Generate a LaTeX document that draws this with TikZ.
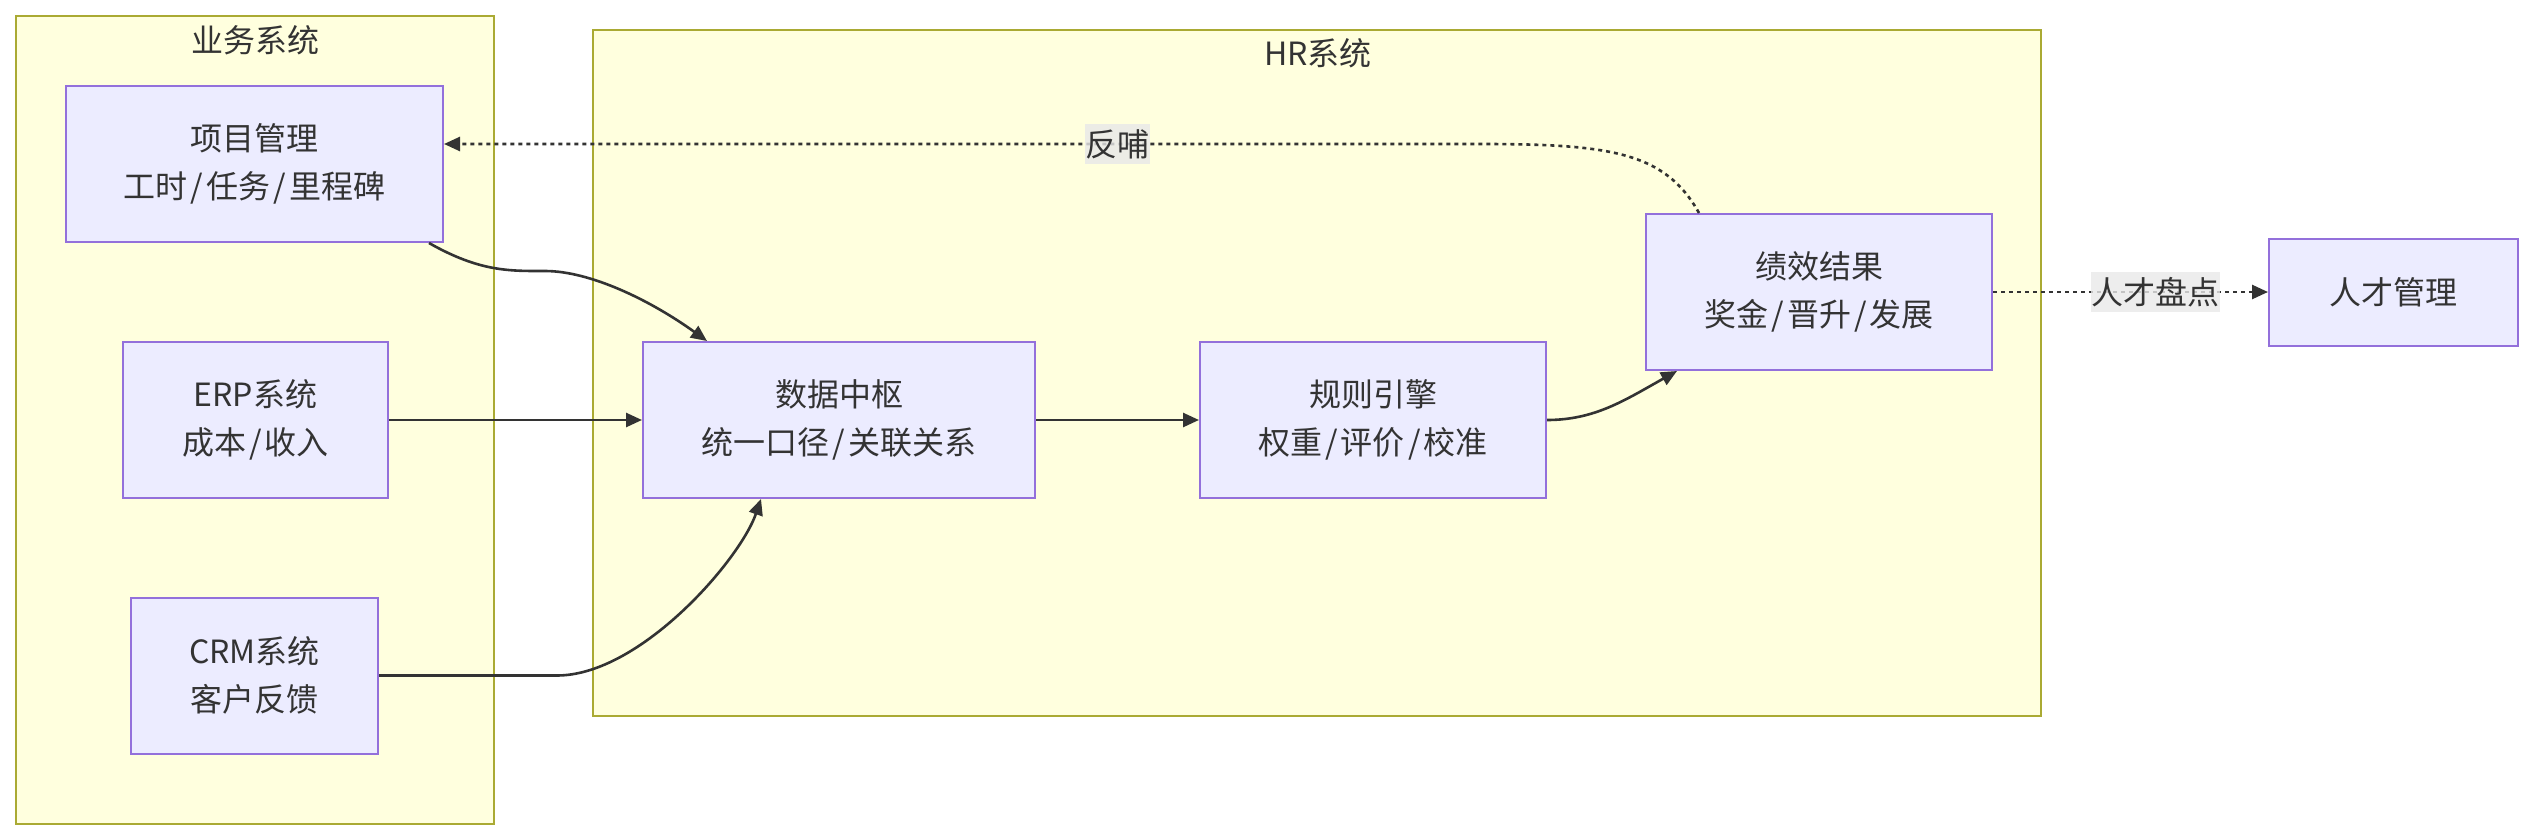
\documentclass[tikz,border=0pt]{standalone}
\usepackage{fontspec}
\setmainfont{Noto Sans CJK SC}
\usetikzlibrary{arrows.meta,calc}
\definecolor{clfill}{HTML}{FFFFDE}
\definecolor{clline}{HTML}{AAAA33}
\definecolor{ndfill}{HTML}{ECECFF}
\definecolor{ndline}{HTML}{9370DB}
\definecolor{txt}{HTML}{333333}
\definecolor{lblbg}{HTML}{E8E8E8}
\newcommand\slsh{\kern1.5pt/\kern1.5pt}
\begin{document}
\begin{tikzpicture}[x=0.5pt,y=-0.5pt,
	box/.style={draw=ndline,fill=ndfill,line width=1pt,text=txt,align=center,inner sep=0pt,
		font=\fontsize{16}{24}\selectfont,minimum height=78pt},
	ttl/.style={text=txt,font=\fontsize{16}{19}\selectfont},
	flow/.style={draw=txt,line width=1.3pt,-{Triangle[length=8pt,width=7pt]}},
	feed/.style={flow,dash pattern=on 2pt off 2pt},
	lbl/.style={fill=lblbg,fill opacity=0.8,text opacity=1,text=txt,inner xsep=0.3pt,inner ysep=0pt,
		minimum height=20pt,font=\fontsize{16}{19}\selectfont}]
	\useasboundingbox (0,0) rectangle (2533,840);
	% groups
	\draw[draw=clline,fill=clfill,line width=1pt] (16,16) rectangle (494,824);
	\draw[draw=clline,fill=clfill,line width=1pt] (593,30) rectangle (2041,716);
	\node[ttl] (bizttl) at (255,40) {业务系统};
	\node[ttl] (hrttl) at (1318,53) {HR系统};
	% nodes
	\node[box,minimum width=188.5pt] (pm) at (254.5,164) {项目管理\\工时\slsh 任务\slsh 里程碑};
	\node[box,minimum width=132.5pt] (erp) at (255.5,420) {ERP系统\\成本\slsh 收入};
	\node[box,minimum width=123.5pt] (crm) at (254.5,675.5) {CRM系统\\客户反馈};
	\node[box,minimum width=196pt] (hub) at (839,420) {数据中枢\\统一口径\slsh 关联关系};
	\node[box,minimum width=173pt] (rule) at (1373,420) {规则引擎\\权重\slsh 评价\slsh 校准};
	\node[box,minimum width=173pt] (res) at (1819,292) {绩效结果\\奖金\slsh 晋升\slsh 发展};
	\node[box,minimum width=124.5pt,minimum height=53.5pt] (tm) at (2393.5,292) {人才管理};
	\coordinate (fb) at (1480,144);
	% edges
	\draw[flow] ($(pm.south east)+(-15,0)$) .. controls (480,272) and (510,271) .. (545,271)
		.. controls (590,271) and (650,300) .. ($(hub.north west)+(65,0)$);
	\draw[flow] (erp) -- (hub);
	\draw[flow] (crm.east) -- (557,675.5) .. controls (640,675.5) and (740,560) .. ($(hub.south west)+(119,0)$);
	\draw[flow] (hub) -- (rule);
	\draw[flow] (rule.east) .. controls (1595,420) and (1625,400) .. ($(res.south west)+(32,0)$);
	\draw[feed] ($(res.north west)+(54,0)$) .. controls (1665,152) and (1610,144) .. (fb)
		-- node[lbl,pos=0.35] (fbl) {反哺} (pm.east |- fb);
	\draw[feed] (res) -- node[lbl,pos=0.59] (tml) {人才盘点} (tm);
\end{tikzpicture}
\end{document}
